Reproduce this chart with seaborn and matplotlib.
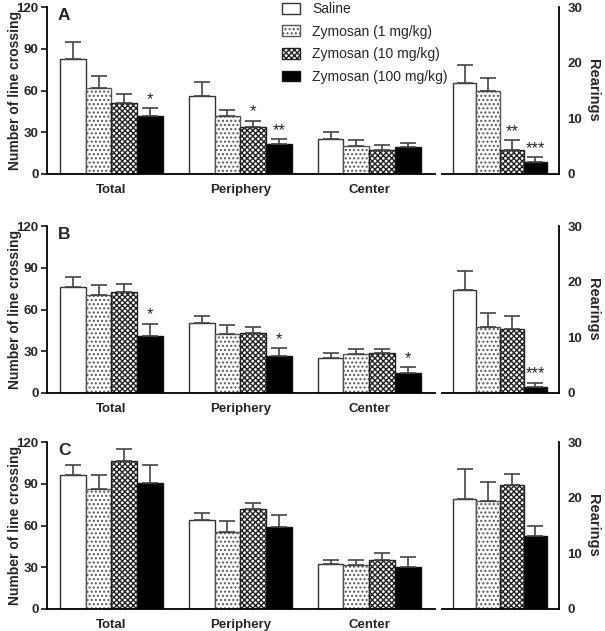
import pandas as pd
import matplotlib
matplotlib.use('Agg')
import matplotlib.pyplot as plt
import seaborn as sns
from matplotlib.patches import Patch

# group labels and regions
groups = ['Saline', 'Zymosan (1 mg/kg)', 'Zymosan (10 mg/kg)', 'Zymosan (100 mg/kg)']
regions = ['Total', 'Periphery', 'Center']
panels = ['A', 'B', 'C']

# line crossing means / SEM, per panel, per region (4 groups each)
cross_mean = {
    'A': [[82.4, 62.0, 51.2, 41.4], [56.3, 41.4, 33.8, 21.8], [25.2, 20.1, 17.3, 19.1]],
    'B': [[75.9, 70.4, 72.8, 40.9], [50.5, 42.2, 43.3, 26.4], [25.1, 28.3, 29.0, 14.6]],
    'C': [[96.0, 86.3, 106.5, 90.6], [63.8, 55.0, 71.8, 59.3], [32.0, 31.3, 35.1, 30.3]],
}
cross_sem = {
    'A': [[12.6, 8.6, 6.3, 5.8], [9.5, 4.8, 4.5, 3.3], [4.8, 4.6, 3.6, 3.2]],
    'B': [[7.4, 7.4, 5.3, 8.9], [4.6, 6.4, 3.9, 5.9], [3.9, 3.6, 2.8, 3.9]],
    'C': [[7.6, 10.1, 8.2, 12.6], [5.4, 8.1, 4.6, 8.5], [3.4, 4.1, 5.3, 6.8]],
}
cross_stars = {
    'A': [['', '', '', '*'], ['', '', '*', '**'], ['', '', '', '']],
    'B': [['', '', '', '*'], ['', '', '', '*'], ['', '', '', '*']],
    'C': [['', '', '', ''], ['', '', '', ''], ['', '', '', '']],
}

# rearings
rear_mean = {'A': [16.4, 14.9, 4.3, 2.1], 'B': [18.6, 11.8, 11.5, 1.0], 'C': [19.7, 19.4, 22.3, 13.1]}
rear_sem = {'A': [3.1, 2.4, 1.8, 0.9], 'B': [3.4, 2.5, 2.4, 0.8], 'C': [5.5, 3.4, 1.9, 1.9]}
rear_stars = {'A': ['', '', '**', '***'], 'B': ['', '', '', '***'], 'C': ['', '', '', '']}

face = ['white', 'white', 'white', 'black']
edge = ['#333333', '#555555', '#222222', '#111111']
hatches = ['', '....', 'xxxxxx', '']
err_col = '#444444'

sns.set_style('white')
plt.rcParams['font.family'] = ['Liberation Sans', 'DejaVu Sans']
plt.rcParams['font.weight'] = 'bold'
plt.rcParams['hatch.linewidth'] = 1.0

fig = plt.figure(figsize=(6.05, 6.31), dpi=100)

bottoms = [0.7243, 0.3772, 0.0349]
height = 0.2645


def style_bars(bars, k):
    for b in bars:
        b.set_facecolor(face[k])
        b.set_edgecolor(edge[k])
        b.set_hatch(hatches[k])
        b.set_linewidth(1.0)


def add_err(ax, bars, sems, stars, gap):
    for b, s, st in zip(bars, sems, stars):
        xc = b.get_x() + b.get_width() / 2
        top = b.get_height()
        ax.errorbar([xc], [top], yerr=[[0], [s]], fmt='none', ecolor=err_col,
                    elinewidth=1.2, capsize=6, capthick=1.2, zorder=3)
        if st:
            ax.text(xc, top + s + gap, st, ha='center', va='bottom', fontsize=12,
                    fontweight='normal')


for p, bot in zip(panels, bottoms):
    rows = []
    for r, region in enumerate(regions):
        for g, grp in enumerate(groups):
            rows.append({'region': region, 'group': grp, 'value': cross_mean[p][r][g]})
    df = pd.DataFrame(rows)

    ax = fig.add_axes([0.0777, bot, 0.6413, height])
    sns.barplot(data=df, x='region', y='value', hue='group', hue_order=groups,
                order=regions, width=0.8, errorbar=None, ax=ax, legend=False,
                palette=['white'] * 4)
    bar_conts = list(ax.containers)
    for k, cont in enumerate(bar_conts):
        bars = [b for b in cont if b is not None]
        style_bars(bars, k)
        add_err(ax, bars, [cross_sem[p][r][k] for r in range(3)],
                [cross_stars[p][r][k] for r in range(3)], 1.0)
    ax.set_xlim(-0.5, 2.51)
    ax.set_ylim(0, 120)
    ax.set_yticks([0, 30, 60, 90, 120])
    ax.set_xlabel('')
    ax.set_ylabel('Number of line crossing', fontsize=10, fontweight='bold')
    ax.yaxis.set_label_coords(-0.064, 0.5)
    ax.tick_params(axis='x', length=0, labelsize=9.5, pad=7)
    ax.set_xticks([2], minor=True)
    ax.tick_params(axis='x', which='minor', length=4, width=1.3, color='black')
    ax.tick_params(axis='y', length=4, width=1.3, labelsize=9.5, pad=2, left=True)
    for lab in ax.get_xticklabels() + ax.get_yticklabels():
        lab.set_fontweight('bold')
    sns.despine(ax=ax)
    for sp in ['left', 'bottom']:
        ax.spines[sp].set_linewidth(1.3)
        ax.spines[sp].set_color('black')
    ax.text(0.028, 0.995, p, transform=ax.transAxes, fontsize=12.5, fontweight='bold',
            va='top', ha='left')

    # rearings panel
    df_r = pd.DataFrame({'group': groups, 'value': rear_mean[p]})
    ax2 = fig.add_axes([0.7306, bot, 0.1934, height])
    sns.barplot(data=df_r, x='group', y='value', hue='group', hue_order=groups,
                order=groups, width=1.0, errorbar=None, ax=ax2, legend=False,
                palette=['white'] * 4)
    bar_conts = list(ax2.containers)
    for k, cont in enumerate(bar_conts):
        bars = [b for b in cont if b is not None]
        style_bars(bars, k)
        add_err(ax2, bars, [rear_sem[p][k]], [rear_stars[p][k]], 0.25)
    ax2.set_xlim(-0.96, 4.0)
    ax2.set_ylim(0, 30)
    ax2.set_yticks([0, 10, 20, 30])
    ax2.set_xticks([])
    ax2.set_xlabel('')
    ax2.yaxis.tick_right()
    ax2.yaxis.set_label_position('right')
    ax2.set_ylabel('Rearings', fontsize=10.5, fontweight='bold', rotation=270, labelpad=13)
    ax2.tick_params(axis='y', length=4, width=1.3, labelsize=9.5, pad=2, right=True)
    for lab in ax2.get_yticklabels():
        lab.set_fontweight('bold')
    sns.despine(ax=ax2, left=True, right=False)
    for sp in ['right', 'bottom']:
        ax2.spines[sp].set_linewidth(1.3)
        ax2.spines[sp].set_color('black')

handles = [Patch(facecolor=face[k], edgecolor=edge[k], hatch=hatches[k], linewidth=1.0)
           for k in range(4)]
fig.legend(handles, groups, loc='upper left', bbox_to_anchor=(0.452, 1.01),
           frameon=False, prop={'size': 10, 'weight': 'normal'},
           handlelength=1.3, handleheight=0.8, labelspacing=0.62, handletextpad=0.9,
           borderaxespad=0.2)

fig.savefig('out.png', dpi=100)
